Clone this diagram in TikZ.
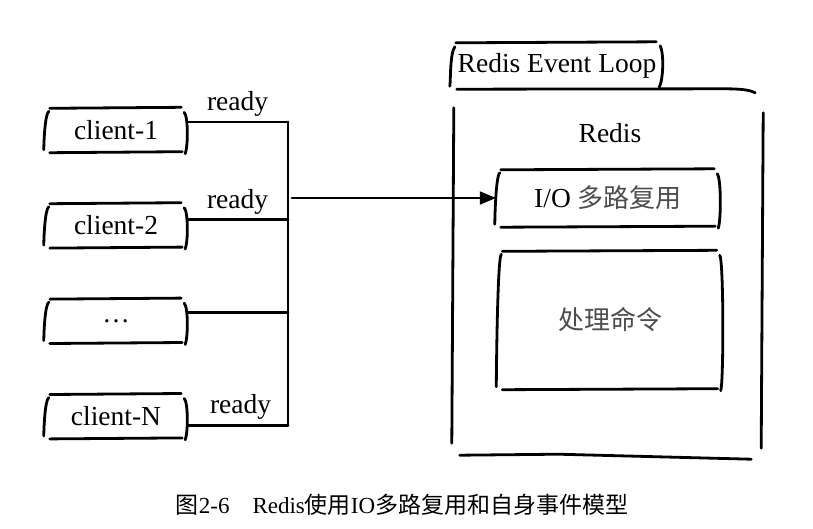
\documentclass[tikz,border=0pt]{standalone}
\usepackage{fontspec}
\setmainfont{Liberation Serif}
\newfontfamily\cjk{Noto Sans CJK SC}
\usetikzlibrary{arrows,positioning}

\tikzset{
	pen/.style={line width=2.8pt,line cap=round,line join=round},
	sketchnode/.style={inner sep=0pt,font=\fontsize{27.5}{30}\selectfont},
	clientbox/.style={sketchnode,minimum width=142,minimum height=43},
	hanzi/.style={font=\fontsize{26}{28}\selectfont\cjk,text=black!70}
}

\newcommand{\sketchbox}[1]{%
	\draw[pen] ([shift={(5,0)}]#1.north west) -- ([shift={(-6,-1)}]#1.north east);
	\draw[pen] ([shift={(5,1)}]#1.south west) -- ([shift={(-5,0)}]#1.south east);
	\draw[pen] ([shift={(4,3)}]#1.north west) .. controls ([shift={(0,6)}]#1.north west) and ([shift={(-1,-8)}]#1.south west) .. ([shift={(-1,-2)}]#1.south west);
	\draw[pen] ([shift={(-3,4)}]#1.north east) .. controls ([shift={(1,8)}]#1.north east) and ([shift={(1,-6)}]#1.south east) .. ([shift={(-2,2)}]#1.south east);
}

\begin{document}
\begin{tikzpicture}
			[line cap=round,line join=round,>=triangle 45,x=1pt,y=-1pt]
			\useasboundingbox (0,0) rectangle (813,528);
			% clients
			\node[clientbox] (c1) at (116,130) {client-1};
			\node[clientbox,below=52pt of c1] (c2) {client-2};
			\node[clientbox,below=52pt of c2] (c3) {\dots};
			\node[clientbox,below=52pt of c3] (cN) {client-N};
			\foreach \c in {c1,c2,c3,cN} {\sketchbox{\c}}
			% redis side
			\node[sketchnode,minimum width=210,minimum height=44] (loop) at (557,66) {Redis Event Loop};
			\node[minimum width=309,minimum height=368,inner sep=0pt] (redis) at (608.5,273) {};
			\node[sketchnode] (rtitle) at (610,133) {Redis};
			\node[minimum width=224,minimum height=56,inner sep=0pt] (io) at (608,198) {\fontsize{27.5}{30}\selectfont I/O\ {\fontsize{26}{28}\selectfont\cjk\color{black!70}多路复用}};
			\node[hanzi,minimum width=225,minimum height=137,inner sep=0pt] (cmd) at (610,320) {处理命令};
			\draw[pen] ([shift={(4,-1)}]loop.north west) -- ([shift={(-6,-2)}]loop.north east);
			\draw[pen] ([shift={(3,3)}]loop.north west) .. controls ([shift={(-2,10)}]loop.north west) and ([shift={(-1,-8)}]loop.south west) .. ([shift={(-2,-2)}]loop.south west);
			\draw[pen] ([shift={(-2,2)}]loop.north east) .. controls ([shift={(2,10)}]loop.north east) and ([shift={(1,-8)}]loop.south east) .. ([shift={(-3,-1)}]loop.south east);
			\draw[pen] ([shift={(5,1)}]loop.south west) -- ([shift={(-40,0)}]redis.north east) .. controls ([shift={(-22,0)}]redis.north east) and ([shift={(-14,1)}]redis.north east) .. ([shift={(-8,4)}]redis.north east);
			\draw[pen] ([shift={(0,19)}]redis.north west) -- ([shift={(-2,-14)}]redis.south west);
			\draw[pen] ([shift={(0,24)}]redis.north east) -- ([shift={(-2,-9)}]redis.south east);
			\draw[pen] ([shift={(6,-2)}]redis.south west) -- ([shift={(-50,-3)}]redis.south) -- ([shift={(-12,2)}]redis.south east);
			\sketchbox{io}
			\sketchbox{cmd}
			% ready lines
			\coordinate (bus) at (288,0);
			\coordinate (p1) at ([yshift=8pt]c1.east);
			\coordinate (p2) at ([yshift=6pt]c2.east);
			\coordinate (p3) at ([yshift=8pt]c3.east);
			\coordinate (pN) at ([yshift=-9pt]cN.east);
			\draw[pen] (p1) -- node[above,sketchnode,inner sep=4pt] {ready} (p1 -| bus);
			\draw[pen] (p2) -- node[above,sketchnode,inner sep=4pt] {ready} (p2 -| bus);
			\draw[pen] (p3) -- (p3 -| bus);
			\draw[pen] (pN) -- node[above,sketchnode,inner sep=4pt,xshift=3pt] {ready} (pN -| bus);
			\draw[pen] (p1 -| bus) -- (pN -| bus);
			\draw[pen,->] ([xshift=4pt]bus |- io.west) -- (io.west);
			% caption
			\node[font=\fontsize{23}{26}\selectfont] (caption) at (402,505) {{\cjk 图}2-6\quad Redis{\cjk 使用}IO{\cjk 多路复用和自身事件模型}};
		\end{tikzpicture}
\end{document}
